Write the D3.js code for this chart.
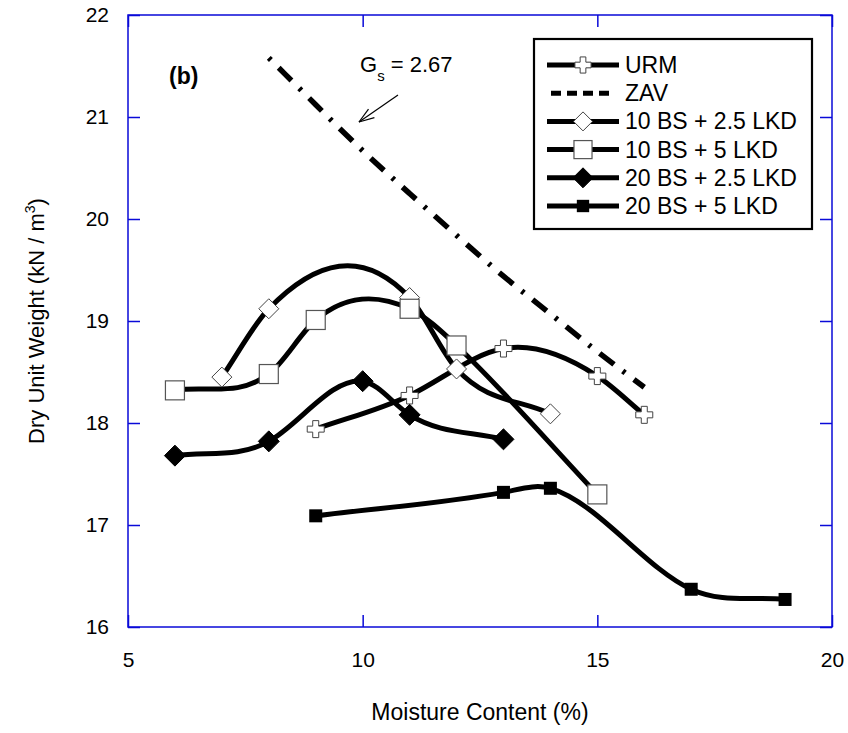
<!DOCTYPE html>
<html>
<head>
<meta charset="utf-8">
<script src="https://cdn.jsdelivr.net/npm/d3@7"></script>
<style>
  html, body { margin: 0; padding: 0; background: #fff; }
  svg { display: block; font-family: "Liberation Sans", Arial, sans-serif; }
</style>
</head>
<body>
<svg id="chart" width="848" height="733"></svg>
<script>
// Compaction curves: moisture content (%) vs dry unit weight (kN/m3)
const xTicks = [5, 10, 15, 20];
const yTicks = [16, 17, 18, 19, 20, 21, 22];

const urmW = [9, 11, 13, 15, 16];
const urmG = [17.94, 18.27, 18.73, 18.46, 18.08];

const zavW = [8, 9, 10, 11, 12, 13, 14, 15, 16];
const zavG = [21.58, 21.12, 20.67, 20.25, 19.84, 19.44, 19.07, 18.70, 18.35];

const bs10lkd25W = [7, 8, 11, 12, 14];
const bs10lkd25G = [18.45, 19.12, 19.23, 18.53, 18.09];

const bs10lkd5W = [6, 8, 9, 11, 12, 15];
const bs10lkd5G = [18.32, 18.48, 19.01, 19.12, 18.76, 17.30];

const bs20lkd25W = [6, 8, 10, 11, 13];
const bs20lkd25G = [17.68, 17.82, 18.41, 18.08, 17.84];

const bs20lkd5W = [9, 13, 14, 17, 19];
const bs20lkd5G = [17.09, 17.32, 17.36, 16.37, 16.27];

const seriesNames = ["URM", "ZAV", "10 BS + 2.5 LKD", "10 BS + 5 LKD", "20 BS + 2.5 LKD", "20 BS + 5 LKD"];
const seriesMarkers = ["cross", "none", "diamondOpen", "squareOpen", "diamondFilled", "squareFilled"];

const zip = (w, g) => w.map((v, i) => ({ w: v, g: g[i] }));
const series = [
  { name: seriesNames[0], marker: seriesMarkers[0], pts: zip(urmW, urmG) },
  { name: seriesNames[1], marker: seriesMarkers[1], pts: zip(zavW, zavG), dashed: true },
  { name: seriesNames[2], marker: seriesMarkers[2], pts: zip(bs10lkd25W, bs10lkd25G) },
  { name: seriesNames[3], marker: seriesMarkers[3], pts: zip(bs10lkd5W, bs10lkd5G) },
  { name: seriesNames[4], marker: seriesMarkers[4], pts: zip(bs20lkd25W, bs20lkd25G) },
  { name: seriesNames[5], marker: seriesMarkers[5], pts: zip(bs20lkd5W, bs20lkd5G) }
];

// Curve factory: smooth Hermite curve of y as a function of x.
// Interior slopes blend a clamped cubic spline with central differences
// (softens overshoot); end slopes follow the end chords.
const SPLINE_WEIGHT = 0.7;
function SplineX(context) { this._context = context; }
SplineX.prototype = {
  areaStart() { this._line = 0; },
  areaEnd() { this._line = NaN; },
  lineStart() { this._x = []; this._y = []; },
  point(x, y) { this._x.push(+x); this._y.push(+y); },
  lineEnd() {
    const X = this._x, Y = this._y, n = X.length, c = this._context;
    if (!n) return;
    c.moveTo(X[0], Y[0]);
    if (n === 1) return;
    if (n === 2) { c.lineTo(X[1], Y[1]); return; }
    const h = [], s = [];
    for (let i = 0; i < n - 1; i++) { h[i] = X[i + 1] - X[i]; s[i] = (Y[i + 1] - Y[i]) / h[i]; }
    const D = new Array(n);
    D[0] = s[0];
    D[n - 1] = s[n - 2];
    const a = [], b = [], cc = [], r = [];
    for (let i = 1; i < n - 1; i++) {
      a[i] = h[i]; b[i] = 2 * (h[i - 1] + h[i]); cc[i] = h[i - 1];
      r[i] = 3 * (h[i] * s[i - 1] + h[i - 1] * s[i]);
    }
    r[1] -= a[1] * D[0];
    r[n - 2] -= cc[n - 2] * D[n - 1];
    for (let i = 2; i < n - 1; i++) {
      const m = a[i] / b[i - 1];
      b[i] -= m * cc[i - 1]; r[i] -= m * r[i - 1];
    }
    for (let i = n - 2; i >= 1; i--) {
      D[i] = (r[i] - (i < n - 2 ? cc[i] * D[i + 1] : 0)) / b[i];
    }
    for (let i = 1; i < n - 1; i++) {
      const central = (Y[i + 1] - Y[i - 1]) / (X[i + 1] - X[i - 1]);
      D[i] = SPLINE_WEIGHT * D[i] + (1 - SPLINE_WEIGHT) * central;
    }
    for (let i = 0; i < n - 1; i++) {
      const t = h[i] / 3;
      c.bezierCurveTo(X[i] + t, Y[i] + D[i] * t, X[i + 1] - t, Y[i + 1] - D[i + 1] * t, X[i + 1], Y[i + 1]);
    }
  }
};
const curveSplineX = context => new SplineX(context);

const svg = d3.select("#chart");
const L = 128, R = 832, T = 15, B = 627;
const frameColor = "#0a0ad8";

const x = d3.scaleLinear().domain([5, 20]).range([L, R]);
const y = d3.scaleLinear().domain([16, 22]).range([B, T]);
const fmt = d3.format("d");

// Axes with inward ticks
const gx = svg.append("g").attr("transform", `translate(0,${B})`)
  .call(d3.axisBottom(x).tickValues(xTicks).tickFormat(fmt).tickSizeInner(-12).tickSizeOuter(0).tickPadding(25));
const gy = svg.append("g").attr("transform", `translate(${L},0)`)
  .call(d3.axisLeft(y).tickValues(yTicks).tickFormat(fmt).tickSizeInner(-12).tickSizeOuter(0).tickPadding(19));
const gt = svg.append("g").attr("transform", `translate(0,${T})`)
  .call(d3.axisTop(x).tickValues(xTicks).tickSizeInner(-12).tickSizeOuter(0).tickFormat(""));
const gr = svg.append("g").attr("transform", `translate(${R},0)`)
  .call(d3.axisRight(y).tickValues(yTicks).tickSizeInner(-12).tickSizeOuter(0).tickFormat(""));

[gx, gy, gt, gr].forEach(g => {
  g.select(".domain").remove();
  g.selectAll(".tick line").attr("stroke", frameColor).attr("stroke-width", 1.5);
  g.selectAll(".tick text").attr("fill", "#000").attr("font-size", 21)
    .attr("font-family", "'Liberation Sans', Arial, sans-serif");
});

svg.append("rect").attr("x", L).attr("y", T).attr("width", R - L).attr("height", B - T)
  .attr("fill", "none").attr("stroke", frameColor).attr("stroke-width", 1.5);

// Axis titles
svg.append("text").attr("x", (L + R) / 2).attr("y", 720).attr("text-anchor", "middle")
  .attr("font-size", 23).text("Moisture Content (%)");

const yt = svg.append("text").attr("transform", `translate(44,${(T + B) / 2}) rotate(-90)`)
  .attr("text-anchor", "middle").attr("font-size", 22);
yt.append("tspan").text("Dry Unit Weight (kN / m");
yt.append("tspan").attr("font-size", 14).attr("dy", -9).text("3");
yt.append("tspan").attr("dy", 9).text(")");

// Curves
const line = d3.line().x(d => x(d.w)).y(d => y(d.g)).curve(curveSplineX);
const plot = svg.append("g");
series.forEach(s => {
  plot.append("path").datum(s.pts).attr("d", line)
    .attr("fill", "none").attr("stroke", "#000")
    .attr("stroke-width", s.dashed ? 5.5 : 5)
    .attr("stroke-dasharray", s.dashed ? "3,11,18,11" : null);
});

// Marker shapes
function drawMarker(g, type, cx, cy, scale) {
  const k = scale || 1;
  if (type === "cross") {
    const a = 8.5 * k, b = 3 * k;
    const p = `M${cx - b},${cy - a}H${cx + b}V${cy - b}H${cx + a}V${cy + b}H${cx + b}V${cy + a}H${cx - b}V${cy + b}H${cx - a}V${cy - b}H${cx - b}Z`;
    g.append("path").attr("d", p).attr("fill", "#fff").attr("stroke", "#444").attr("stroke-width", 1);
  } else if (type === "diamondOpen" || type === "diamondFilled") {
    const r = (type === "diamondOpen" ? 10 : 10.5) * k;
    const p = `M${cx},${cy - r}L${cx + r},${cy}L${cx},${cy + r}L${cx - r},${cy}Z`;
    g.append("path").attr("d", p)
      .attr("fill", type === "diamondOpen" ? "#fff" : "#000")
      .attr("stroke", type === "diamondOpen" ? "#444" : "#000").attr("stroke-width", 1);
  } else if (type === "squareOpen") {
    const h = 9.5 * k;
    g.append("rect").attr("x", cx - h).attr("y", cy - h).attr("width", 2 * h).attr("height", 2 * h)
      .attr("fill", "#fff").attr("stroke", "#555").attr("stroke-width", 1.2);
  } else if (type === "squareFilled") {
    const h = 6.5 * k;
    g.append("rect").attr("x", cx - h).attr("y", cy - h).attr("width", 2 * h).attr("height", 2 * h)
      .attr("fill", "#000");
  }
}

const marks = svg.append("g");
series.forEach(s => {
  if (s.marker === "none") return;
  s.pts.forEach(d => drawMarker(marks, s.marker, x(d.w), y(d.g)));
});

// Panel label and specific gravity note
svg.append("text").attr("x", 169).attr("y", 84).attr("font-size", 23).attr("font-weight", "bold").text("(b)");
const gs = svg.append("text").attr("x", 360).attr("y", 72).attr("font-size", 22);
gs.append("tspan").text("G");
gs.append("tspan").attr("font-size", 15).attr("dy", 9).text("s");
gs.append("tspan").attr("dy", -9).text(" = 2.67");

// Arrow pointing to the ZAV line
const ax0 = 398, ay0 = 95, ax1 = 359, ay1 = 122;
svg.append("line").attr("x1", ax0).attr("y1", ay0).attr("x2", ax1).attr("y2", ay1)
  .attr("stroke", "#000").attr("stroke-width", 1.2);
(function () {
  const ang = Math.atan2(ay0 - ay1, ax0 - ax1);
  const len = 16, spread = 0.33;
  [ang - spread, ang + spread].forEach(a => {
    svg.append("line").attr("x1", ax1).attr("y1", ay1)
      .attr("x2", ax1 + len * Math.cos(a)).attr("y2", ay1 + len * Math.sin(a))
      .attr("stroke", "#000").attr("stroke-width", 1.2);
  });
})();

// Legend
const lg = svg.append("g");
lg.append("rect").attr("x", 534).attr("y", 39).attr("width", 278).attr("height", 190)
  .attr("fill", "#fff").attr("stroke", "#000").attr("stroke-width", 2.2);
series.forEach((s, i) => {
  const ry = 65 + i * 28.2;
  lg.append("line").attr("x1", s.dashed ? 551 : 547).attr("x2", s.dashed ? 609 : 619)
    .attr("y1", ry).attr("y2", ry).attr("stroke", "#000")
    .attr("stroke-width", 5).attr("stroke-dasharray", s.dashed ? "10,6" : null);
  if (s.marker !== "none") drawMarker(lg, s.marker, 583, ry, 0.95);
  lg.append("text").attr("x", 625).attr("y", ry + 8).attr("font-size", 23).text(s.name);
});
</script>
</body>
</html>
